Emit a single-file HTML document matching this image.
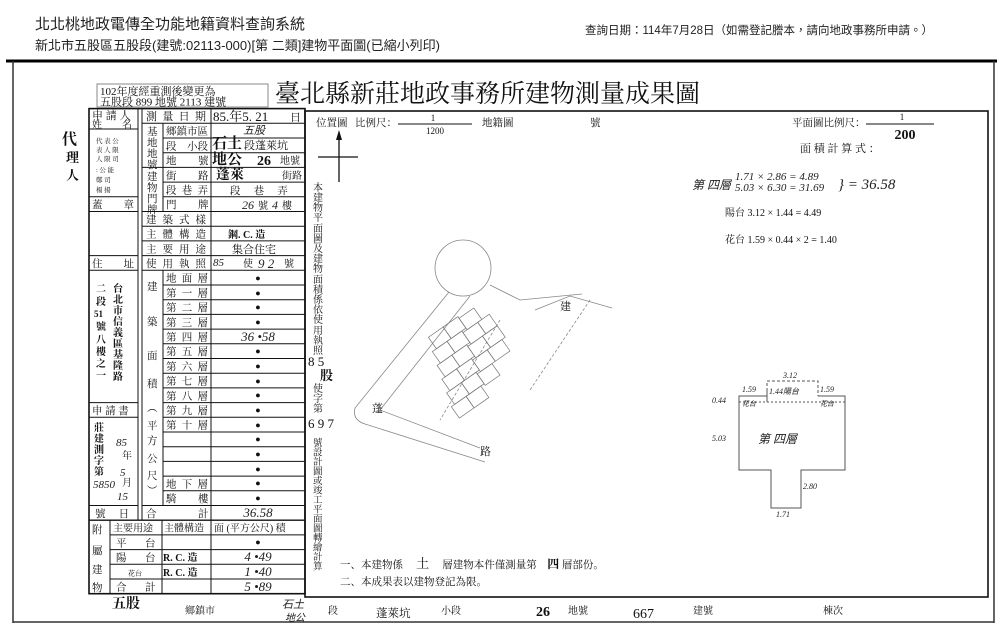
<!DOCTYPE html>
<html><head><meta charset="utf-8">
<style>
html,body{margin:0;padding:0;background:#fff;}
svg{display:block;}
.s{font-family:"Liberation Serif","Noto Serif CJK SC",serif;fill:#111;}
.g{font-family:"Liberation Sans","Noto Sans CJK TC",sans-serif;fill:#222;}
.h{font-family:"Liberation Serif",serif;font-style:italic;fill:#222;}
</style></head><body>
<svg width="1000" height="638" viewBox="0 0 1000 638" xmlns="http://www.w3.org/2000/svg">
<!-- page header -->
<text class="g" x="35" y="29" font-size="15" fill="#333">北北桃地政電傳全功能地籍資料查詢系統</text>
<text class="g" x="35" y="50" font-size="13" fill="#333">新北市五股區五股段(建號:02113-000)[第 二類]建物平面圖(已縮小列印)</text>
<text class="g" x="585" y="34" font-size="11.5" fill="#333">查詢日期：114年7月28日（如需登記謄本，請向地政事務所申請。）</text>

<!-- outer frame -->
<line x1="6" y1="61" x2="997" y2="61" stroke="#000" stroke-width="3"/>
<line x1="13" y1="61" x2="13" y2="623" stroke="#333" stroke-width="1.5"/>
<line x1="994" y1="61" x2="994" y2="623" stroke="#333" stroke-width="1.5"/>
<line x1="13" y1="622" x2="994" y2="622" stroke="#333" stroke-width="1.5"/>

<!-- notice box -->
<rect x="97" y="84" width="171" height="23" fill="none" stroke="#888" stroke-width="1"/>
<text class="s" x="100" y="95" font-size="11">102年度經重測後變更為</text>
<text class="s" x="100" y="105.5" font-size="11">五股段 899 地號 2113 建號</text>
<text class="s" x="275" y="102" font-size="25">臺北縣新莊地政事務所建物測量成果圖</text>

<!-- TABLE LINES -->
<g stroke="#111" stroke-width="1" fill="none">
<rect x="89" y="108.6" width="216" height="485.1" stroke-width="1.6"/>
<line x1="138" y1="108.6" x2="138" y2="520.2"/>
<line x1="142" y1="108.6" x2="142" y2="520.2"/>
<line x1="163" y1="123.3" x2="163" y2="211.5"/>
<line x1="163" y1="270.3" x2="163" y2="505.5"/>
<line x1="211" y1="108.6" x2="211" y2="593.7"/>
<line x1="110" y1="520.2" x2="110" y2="593.7"/>
<line x1="162" y1="520.2" x2="162" y2="593.7"/>
<line x1="89" y1="129" x2="138" y2="129"/>
<line x1="89" y1="196.8" x2="138" y2="196.8"/>
<line x1="89" y1="211.5" x2="138" y2="211.5"/>
<line x1="89" y1="255.6" x2="138" y2="255.6"/>
<line x1="89" y1="270.3" x2="138" y2="270.3"/>
<line x1="89" y1="402.6" x2="138" y2="402.6"/>
<line x1="89" y1="417.3" x2="138" y2="417.3"/>
<line x1="89" y1="505.5" x2="138" y2="505.5"/>
<line x1="142" y1="123.3" x2="163" y2="123.3"/>
<line x1="142" y1="167.4" x2="163" y2="167.4"/>
<line x1="142" y1="211.5" x2="163" y2="211.5"/>
<line x1="142" y1="226.2" x2="163" y2="226.2"/>
<line x1="142" y1="240.9" x2="163" y2="240.9"/>
<line x1="142" y1="255.6" x2="163" y2="255.6"/>
<line x1="142" y1="270.3" x2="163" y2="270.3"/>
<line x1="142" y1="505.5" x2="163" y2="505.5"/>
<line x1="163" y1="123.3" x2="305" y2="123.3"/>
<line x1="163" y1="138" x2="305" y2="138"/>
<line x1="163" y1="152.7" x2="305" y2="152.7"/>
<line x1="163" y1="167.4" x2="305" y2="167.4"/>
<line x1="163" y1="182.1" x2="305" y2="182.1"/>
<line x1="163" y1="196.8" x2="305" y2="196.8"/>
<line x1="163" y1="211.5" x2="305" y2="211.5"/>
<line x1="163" y1="226.2" x2="305" y2="226.2"/>
<line x1="163" y1="240.9" x2="305" y2="240.9"/>
<line x1="163" y1="255.6" x2="305" y2="255.6"/>
<line x1="163" y1="270.3" x2="305" y2="270.3"/>
<line x1="163" y1="285" x2="305" y2="285"/>
<line x1="163" y1="299.7" x2="305" y2="299.7"/>
<line x1="163" y1="314.4" x2="305" y2="314.4"/>
<line x1="163" y1="329.1" x2="305" y2="329.1"/>
<line x1="163" y1="343.8" x2="305" y2="343.8"/>
<line x1="163" y1="358.5" x2="305" y2="358.5"/>
<line x1="163" y1="373.2" x2="305" y2="373.2"/>
<line x1="163" y1="387.9" x2="305" y2="387.9"/>
<line x1="163" y1="402.6" x2="305" y2="402.6"/>
<line x1="163" y1="417.3" x2="305" y2="417.3"/>
<line x1="163" y1="432" x2="305" y2="432"/>
<line x1="163" y1="446.7" x2="305" y2="446.7"/>
<line x1="163" y1="461.4" x2="305" y2="461.4"/>
<line x1="163" y1="476.1" x2="305" y2="476.1"/>
<line x1="163" y1="490.8" x2="305" y2="490.8"/>
<line x1="142" y1="505.5" x2="305" y2="505.5"/>
<line x1="89" y1="520.2" x2="305" y2="520.2" stroke-width="1.4"/>
<line x1="110" y1="534.9" x2="305" y2="534.9"/>
<line x1="110" y1="549.6" x2="305" y2="549.6"/>
<line x1="110" y1="564.3" x2="305" y2="564.3"/>
<line x1="110" y1="579" x2="305" y2="579"/>
</g>

<!-- left outside -->
<text class="s" x="62" y="144" font-size="15" font-weight="bold">代</text>
<text class="s" x="66" y="162" font-size="13" font-weight="bold">理</text>
<text class="s" x="66" y="180" font-size="13" font-weight="bold">人</text>

<!-- left column text -->
<text class="s" x="92" y="119" font-size="11">申 請 人</text>
<text class="s" x="92" y="128" font-size="10">姓　　名</text>
<g class="s" font-size="6.5" fill="#444">
<text x="96" y="143">代 表 公</text><text x="96" y="152">表 人 限</text><text x="96" y="161">人 限 司</text><text x="96" y="172">: 公 能</text><text x="96" y="182">鄭 司 </text><text x="96" y="192">楊 揚</text>
</g>
<text class="s" x="92" y="208" font-size="10.5">蓋　　章</text>
<text class="s" x="92" y="267" font-size="10.5">住　　址</text>
<g class="s" font-size="10" font-weight="bold">
<text x="113" y="292">台</text><text x="113" y="303">北</text><text x="113" y="314">市</text><text x="113" y="325">信</text><text x="113" y="336">義</text><text x="113" y="347">區</text><text x="113" y="358">基</text><text x="113" y="369">隆</text><text x="113" y="380">路</text>
<text x="96" y="292">二</text><text x="96" y="305">段</text><text x="94" y="317" font-size="9">51</text><text x="96" y="330">號</text><text x="96" y="343">八</text><text x="96" y="355">樓</text><text x="96" y="367">之</text><text x="96" y="379">一</text>
</g>
<text class="s" x="92" y="414" font-size="10.5">申 請 書</text>
<g class="s" font-size="10" font-weight="bold">
<text x="94" y="431">莊</text><text x="94" y="442">建</text><text x="94" y="453">測</text><text x="94" y="464">字</text><text x="94" y="475">第</text>
</g>
<g class="h" font-size="11">
<text x="93" y="488">5850</text>
<text x="116" y="446">85</text><text x="120" y="476">5</text><text x="117" y="500">15</text>
</g>
<g class="s" font-size="10"><text x="122" y="459">年</text><text x="122" y="486">月</text></g>
<text class="s" x="95" y="517" font-size="10.5">號　  日</text>

<!-- mid column -->
<text class="s" x="146" y="120" font-size="11" textLength="60" lengthAdjust="spacing">測量日期</text>
<g class="s" font-size="10.5">
<text x="147" y="135">基</text><text x="147" y="146">地</text><text x="147" y="157">地</text><text x="147" y="168">號</text>
<text x="147" y="180">建</text><text x="147" y="191">物</text><text x="147" y="202">門</text><text x="147" y="213">牌</text>
<text x="147" y="290">建</text><text x="147" y="325">築</text><text x="147" y="359">面</text><text x="147" y="387">積</text><text x="147" y="411">︵</text><text x="147" y="429">平</text><text x="147" y="444">方</text><text x="147" y="462">公</text><text x="147" y="479">尺</text><text x="147" y="494">︶</text>
</g>
<g class="s" font-size="10.5">
<text x="166" y="134.7" textLength="42" lengthAdjust="spacing">鄉鎮市區</text>
<text x="166" y="149.4">段</text><text x="187" y="149.4">小段</text>
<text x="166" y="164.1">地</text><text x="198" y="164.1">號</text>
<text x="166" y="178.8">街</text><text x="198" y="178.8">路</text>
<text x="166" y="193.5" textLength="42" lengthAdjust="spacing">段巷弄</text>
<text x="166" y="208.2">門</text><text x="198" y="208.2">牌</text>
<text x="146" y="222.9" textLength="60" lengthAdjust="spacing">建築式樣</text>
<text x="146" y="237.6" textLength="60" lengthAdjust="spacing">主體構造</text>
<text x="146" y="252.3" textLength="60" lengthAdjust="spacing">主要用途</text>
<text x="146" y="267" textLength="60" lengthAdjust="spacing">使用執照</text>
<text x="166" y="281.7" textLength="42" lengthAdjust="spacing">地面層</text>
<text x="166" y="296.4" textLength="42" lengthAdjust="spacing">第一層</text>
<text x="166" y="311.1" textLength="42" lengthAdjust="spacing">第二層</text>
<text x="166" y="325.8" textLength="42" lengthAdjust="spacing">第三層</text>
<text x="166" y="340.5" textLength="42" lengthAdjust="spacing">第四層</text>
<text x="166" y="355.2" textLength="42" lengthAdjust="spacing">第五層</text>
<text x="166" y="369.9" textLength="42" lengthAdjust="spacing">第六層</text>
<text x="166" y="384.6" textLength="42" lengthAdjust="spacing">第七層</text>
<text x="166" y="399.3" textLength="42" lengthAdjust="spacing">第八層</text>
<text x="166" y="414" textLength="42" lengthAdjust="spacing">第九層</text>
<text x="166" y="428.7" textLength="42" lengthAdjust="spacing">第十層</text>
<text x="166" y="487.5" textLength="42" lengthAdjust="spacing">地下層</text>
<text x="166" y="502.2">騎</text><text x="198" y="502.2">樓</text>
<text x="146" y="516.9">合</text><text x="198" y="516.9">計</text>
<text x="113" y="531.6" font-size="10">主要用途</text>
<text x="164" y="531.6" font-size="10">主體構造</text>
<text x="214" y="531.6" font-size="10">面 (平方公尺) 積</text>
<text x="116" y="546.3">平</text><text x="145" y="546.3">台</text>
<text x="116" y="561">陽</text><text x="145" y="561">台</text>
<text x="128" y="575.7" font-size="7">花台</text>
<text x="116" y="590.4">合</text><text x="145" y="590.4">計</text>
<text x="92" y="533">附</text><text x="92" y="554">屬</text><text x="92" y="573">建</text><text x="92" y="591">物</text>
</g>
<g class="s" font-size="10" font-weight="bold">
<text x="163" y="561">R. C. 造</text><text x="163" y="576">R. C. 造</text>
</g>
<text class="s" x="213" y="121" font-size="13">85.年5. 21</text><text class="s" x="290" y="121" font-size="11">日</text>
<text class="h" x="243" y="134" font-size="11">五股</text>
<text class="s" x="212" y="148" font-size="15" font-weight="bold">石土</text>
<text class="s" x="212" y="164" font-size="15" font-weight="bold">地公</text>
<text class="s" x="244" y="149" font-size="11">段蓬萊坑</text>
<text class="s" x="257" y="165" font-size="14" font-weight="bold">26</text><text class="s" x="280" y="164" font-size="10">地號</text>
<text class="s" x="216" y="179" font-size="14" font-weight="bold">蓬萊</text><text class="s" x="282" y="179" font-size="10">街路</text>
<text class="s" x="230" y="194" font-size="10.5">段　 巷　 弄</text>
<text class="h" x="242" y="209" font-size="12">26</text><text class="s" x="258" y="209" font-size="10">號</text><text class="h" x="272" y="209" font-size="12">4</text><text class="s" x="282" y="209" font-size="10">樓</text>
<text class="s" x="228" y="238" font-size="10" font-weight="bold">鋼. C. 造</text>
<text class="s" x="232" y="253" font-size="11">集合住宅</text>
<text class="h" x="213" y="266" font-size="11">85</text><text class="s" x="243" y="267" font-size="10">使</text><text class="h" x="258" y="268" font-size="13">9 2</text><text class="s" x="284" y="267" font-size="10">號</text>
<g class="s" font-size="9" text-anchor="middle">
<text x="258" y="281">●</text><text x="258" y="296">●</text><text x="258" y="310">●</text><text x="258" y="325">●</text><text x="258" y="354">●</text><text x="258" y="369">●</text><text x="258" y="384">●</text><text x="258" y="398">●</text><text x="258" y="413">●</text><text x="258" y="428">●</text><text x="258" y="442">●</text><text x="258" y="457">●</text><text x="258" y="472">●</text><text x="258" y="486">●</text><text x="258" y="501">●</text><text x="258" y="545">●</text>
</g>
<g class="h" font-size="13" text-anchor="middle">
<text x="258" y="341">36 •58</text><text x="258" y="517">36.58</text><text x="258" y="561">4 •49</text><text x="258" y="576">1 •40</text><text x="258" y="591">5 •89</text>
</g>

<!-- MAP FRAME -->
<rect x="305" y="111" width="683" height="486" fill="none" stroke="#111" stroke-width="1.6"/>
<text class="s" x="316" y="126" font-size="10.5">位置圖</text>
<text class="s" x="355" y="126" font-size="10.5">比例尺：</text>
<line x1="398" y1="124" x2="472" y2="124" stroke="#111"/>
<text class="s" x="433" y="121" font-size="9" text-anchor="middle">1</text>
<text class="s" x="435" y="134" font-size="9" text-anchor="middle">1200</text>
<text class="s" x="482" y="126" font-size="10.5">地籍圖</text>
<text class="s" x="590" y="126" font-size="10.5">號</text>
<text class="s" x="792" y="126" font-size="10.5">平面圖比例尺：</text>
<line x1="866" y1="124" x2="934" y2="124" stroke="#111"/>
<text class="s" x="902" y="120" font-size="9" text-anchor="middle">1</text>
<text class="s" x="905" y="139" font-size="14" font-weight="bold" text-anchor="middle">200</text>
<text class="s" x="800" y="152" font-size="11">面 積 計 算 式 ：</text>
<line x1="339" y1="136" x2="339" y2="182" stroke="#111" stroke-width="1.3"/>
<polygon points="339,130 336,140 342,140" fill="#111"/>
<line x1="318" y1="157" x2="358" y2="157" stroke="#111" stroke-width="1.3"/>
<!-- vertical text -->
<g class="s" font-size="10">
<text x="313" y="191">本</text><text x="313" y="201">建</text><text x="313" y="211">物</text><text x="313" y="221">平</text><text x="313" y="232">面</text><text x="313" y="242">圖</text><text x="313" y="252">及</text><text x="313" y="262">建</text><text x="313" y="272">物</text><text x="313" y="283">面</text><text x="313" y="293">積</text><text x="313" y="303">係</text><text x="313" y="313">依</text><text x="313" y="323">使</text><text x="313" y="334">用</text><text x="313" y="344">執</text><text x="313" y="354">照</text>
</g>
<text class="s" x="308" y="366" font-size="13">8 5</text>
<text class="s" x="320" y="380" font-size="13" font-weight="bold">股</text>
<g class="s" font-size="10"><text x="313" y="392">使</text><text x="313" y="402">字</text><text x="313" y="412">第</text></g>
<text class="s" x="308" y="428" font-size="13">6 9 7</text>
<g class="s" font-size="9.5">
<text x="313" y="446">號</text><text x="313" y="455.5">設</text><text x="313" y="465">計</text><text x="313" y="474.5">圖</text><text x="313" y="484">或</text><text x="313" y="493.5">竣</text><text x="313" y="503">工</text><text x="313" y="512.5">平</text><text x="313" y="522">面</text><text x="313" y="531.5">圖</text><text x="313" y="541">轉</text><text x="313" y="550.5">繪</text><text x="313" y="560">計</text><text x="313" y="569.5">算</text>
</g>

<!-- calculations -->
<text class="h" x="692" y="189" font-size="12">第 四層</text>
<text class="h" x="735" y="180" font-size="11">1.71 × 2.86 = 4.89</text>
<text class="h" x="735" y="191" font-size="11">5.03 × 6.30 = 31.69</text>
<text class="h" x="838" y="189" font-size="15">} = 36.58</text>
<text class="s" x="725" y="216" font-size="10" fill="#444">陽台 3.12 × 1.44 = 4.49</text>
<text class="s" x="725" y="243" font-size="10" fill="#444">花台 1.59 × 0.44 × 2 = 1.40</text>

<!-- site map (faint) -->
<g stroke="#888" stroke-width="0.8" fill="none">
<circle cx="463" cy="268" r="28"/>
<path d="M449,292 L355,408 Q352,420 365,424 L485,462"/>
<path d="M470,296 L380,410 L480,448"/>
<path d="M490,285 L520,300 L582,294"/>
<path d="M535,310 L570,296 L612,308"/>
<path d="M500,320 L440,420" stroke-dasharray="3,2"/>
<path d="M590,300 L530,390" stroke-dasharray="3,2"/>
</g>
<g stroke="#777" stroke-width="0.7" fill="none" transform="rotate(-35 480 350)">
<rect x="445" y="310" width="18" height="14"/><rect x="463" y="310" width="18" height="14"/><rect x="481" y="312" width="18" height="14"/>
<rect x="440" y="324" width="18" height="14"/><rect x="458" y="324" width="18" height="14"/><rect x="476" y="326" width="18" height="14"/><rect x="494" y="326" width="14" height="14"/>
<rect x="436" y="338" width="18" height="14"/><rect x="454" y="338" width="18" height="14"/><rect x="472" y="340" width="18" height="14"/><rect x="490" y="340" width="18" height="14"/>
<rect x="432" y="352" width="18" height="14"/><rect x="450" y="352" width="18" height="14"/><rect x="468" y="354" width="18" height="14"/><rect x="486" y="354" width="18" height="14"/>
<rect x="428" y="366" width="18" height="14"/><rect x="446" y="366" width="18" height="14"/><rect x="464" y="368" width="18" height="14"/>
<rect x="424" y="380" width="18" height="14"/><rect x="442" y="380" width="18" height="14"/>
</g>
<text class="s" x="560" y="310" font-size="11" fill="#666">建</text>
<text class="s" x="372" y="412" font-size="11" fill="#777">蓬</text>
<text class="s" x="480" y="455" font-size="11" fill="#777">路</text>

<!-- floor plan -->
<g stroke="#555" stroke-width="1" fill="none">
<path d="M767,396 L739,396 L739,470 L771,470 L771,508 L801,508 L801,470 L845,470 L845,396 L818,396"/>
<path d="M767,396 L767,381 L818,381 L818,396" stroke-dasharray="3,2"/>
<line x1="739" y1="402" x2="845" y2="402" stroke-dasharray="2,2"/>
<line x1="767" y1="388" x2="767" y2="402"/>
</g>
<g class="h" font-size="8" fill="#333">
<text x="783" y="378">3.12</text><text x="742" y="392">1.59</text><text x="769" y="394">1.44陽台</text><text x="820" y="392">1.59</text>
<text x="742" y="406" font-size="7">花台</text><text x="820" y="406" font-size="7">花台</text>
<text x="712" y="403">0.44</text><text x="712" y="441">5.03</text><text x="803" y="489">2.80</text><text x="776" y="517">1.71</text>
</g>
<text class="h" x="758" y="443" font-size="12" fill="#333">第 四層</text>

<!-- notes -->
<text class="s" x="340" y="568" font-size="10.5">一、本建物係 　<tspan font-size="13">土</tspan>　 層建物本件僅測量第　<tspan font-weight="bold" font-size="12">四</tspan> 層部份。</text>
<text class="s" x="340" y="585" font-size="10.5">二、本成果表以建物登記為限。</text>

<!-- bottom row -->
<text class="s" x="112" y="608" font-size="14" font-weight="bold">五股</text>
<text class="s" x="185" y="614" font-size="10">鄉鎮市</text>
<text class="h" x="282" y="608" font-size="11">石土</text>
<text class="h" x="285" y="621" font-size="10">地公</text>
<text class="s" x="328" y="614" font-size="10">段</text>
<text class="s" x="376" y="617" font-size="11.5">蓬萊坑</text>
<text class="s" x="441" y="614" font-size="10">小段</text>
<text class="s" x="536" y="616" font-size="14" font-weight="bold">26</text>
<text class="s" x="568" y="614" font-size="10">地號</text>
<text class="s" x="633" y="618" font-size="14">667</text>
<text class="s" x="693" y="614" font-size="10">建號</text>
<text class="s" x="823" y="614" font-size="10">棟次</text>
</svg>
</body></html>
